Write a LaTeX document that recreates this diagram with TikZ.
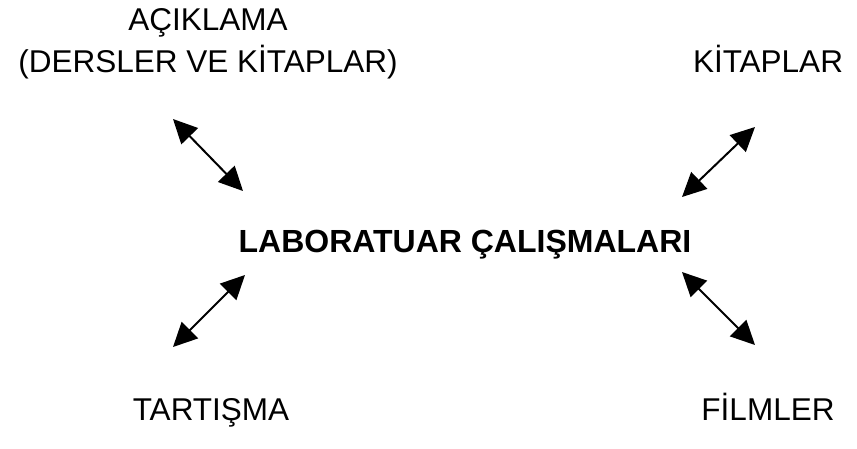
\documentclass[tikz,border=0pt]{standalone}
\usepackage{fontspec}
\setmainfont{Liberation Sans}
\usetikzlibrary{arrows.meta}
\tikzset{
  lbl/.style={anchor=base, inner sep=0pt, font=\fontsize{31.5}{42}\selectfont, align=center},
  mainlbl/.style={anchor=base, inner sep=0pt, font=\fontsize{32}{38}\selectfont\bfseries},
  dbl/.style={line width=2pt, {Triangle[length=24pt,width=23pt]}-{Triangle[length=24pt,width=23pt]}}
}
\begin{document}
\begin{tikzpicture}[x=1pt,y=-1pt]
\useasboundingbox (0,0) rectangle (857,448);
\node[lbl] (aciklama) at (208,30) {AÇIKLAMA};
\node[lbl] (dersler) at (208,72) {(DERSLER VE KİTAPLAR)};
\node[lbl] (kitaplar) at (768,72) {KİTAPLAR};
\node[mainlbl] (lab) at (465,252) {LABORATUAR ÇALIŞMALARI};
\node[lbl] (tartisma) at (211,420) {TARTIŞMA};
\node[lbl] (filmler) at (768,420) {FİLMLER};
\coordinate (a1) at (173,119);
\coordinate (a2) at (243,191);
\coordinate (b1) at (755,127);
\coordinate (b2) at (682,197);
\coordinate (c1) at (245,275);
\coordinate (c2) at (173,347);
\coordinate (d1) at (682,272);
\coordinate (d2) at (755,345);
\draw[dbl] (a1) -- (a2);
\draw[dbl] (b1) -- (b2);
\draw[dbl] (c1) -- (c2);
\draw[dbl] (d1) -- (d2);
\end{tikzpicture}
\end{document}
